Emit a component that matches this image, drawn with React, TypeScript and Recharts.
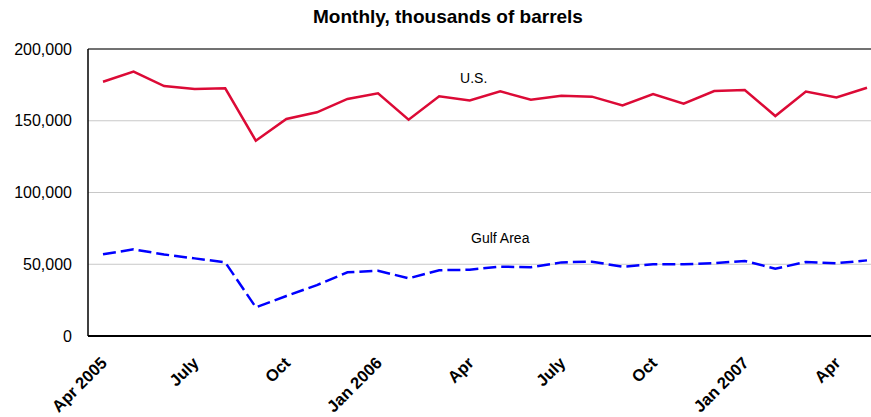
import { LineChart, Line, XAxis, YAxis, CartesianGrid, ReferenceLine, ReferenceDot } from 'recharts';

const months = [
  '2005-04', '2005-05', '2005-06', '2005-07', '2005-08', '2005-09', '2005-10', '2005-11', '2005-12',
  '2006-01', '2006-02', '2006-03', '2006-04', '2006-05', '2006-06', '2006-07', '2006-08', '2006-09',
  '2006-10', '2006-11', '2006-12', '2007-01', '2007-02', '2007-03', '2007-04', '2007-05',
];

const tickLabels: Record<string, string> = {
  '2005-04': 'Apr 2005',
  '2005-07': 'July',
  '2005-10': 'Oct',
  '2006-01': 'Jan 2006',
  '2006-04': 'Apr',
  '2006-07': 'July',
  '2006-10': 'Oct',
  '2007-01': 'Jan 2007',
  '2007-04': 'Apr',
};

const usValues = [
  177200, 184200, 174200, 172100, 172600, 136100, 151200, 155900, 165200,
  169100, 150700, 167000, 164200, 170500, 164700, 167500, 166800, 160700,
  168600, 161900, 170700, 171400, 153300, 170300, 166300, 173000,
];

const gulfValues = [
  56900, 60400, 56800, 54100, 51300, 20000, 27900, 35500, 44400,
  45500, 40200, 45800, 46200, 48300, 47900, 51300, 51800, 48300,
  50000, 50000, 50700, 52300, 46900, 51600, 50700, 52700,
];

const yTicks = [0, 50000, 100000, 150000, 200000];

const data = months.map((m, i) => ({ month: m, us: usValues[i], gulf: gulfValues[i] }));

const font = '"Liberation Sans", Arial, sans-serif';

function MonthTick(props: any) {
  const { x, y, payload } = props;
  return (
    <g transform={`translate(${x + 5},${y + 20})`}>
      <text
        x={0}
        y={0}
        textAnchor="end"
        transform="rotate(-45)"
        fontFamily={font}
        fontWeight="bold"
        fontSize={16.5}
        fill="#000"
      >
        {tickLabels[payload.value] ?? ''}
      </text>
    </g>
  );
}

export default function App() {
  return (
    <div style={{ position: 'fixed', left: 0, top: 0, width: 871, height: 417, background: '#fff', overflow: 'hidden' }}>
      <div
        style={{
          position: 'absolute',
          left: 0,
          top: 6,
          width: 896,
          textAlign: 'center',
          fontFamily: font,
          fontWeight: 'bold',
          fontSize: 19,
          lineHeight: '22px',
          color: '#000',
          whiteSpace: 'nowrap',
        }}
      >
        Monthly, thousands of barrels
      </div>
      <LineChart width={871} height={417} data={data} margin={{ top: 49, right: 0, bottom: 0, left: 0 }}>
        <CartesianGrid vertical={false} stroke="#c8c8c8" strokeWidth={1} />
        <XAxis
          dataKey="month"
          interval={2}
          tick={<MonthTick />}
          tickLine={false}
          axisLine={{ stroke: '#000', strokeWidth: 2 }}
          height={81}
          padding={{ left: 15, right: 4 }}
        />
        <YAxis
          domain={[0, 200000]}
          ticks={yTicks}
          width={88}
          tickLine={false}
          tickSize={0}
          tickMargin={16}
          axisLine={{ stroke: '#000', strokeWidth: 1.5 }}
          tickFormatter={(v: number) => v.toLocaleString('en-US')}
          tick={{ fontFamily: font, fontSize: 16, fill: '#000' }}
        />
        <ReferenceLine y={200000} stroke="#000" strokeWidth={1} />
        <Line
          type="linear"
          dataKey="us"
          stroke="#dc0a36"
          strokeWidth={2.5}
          dot={false}
          isAnimationActive={false}
        />
        <Line
          type="linear"
          dataKey="gulf"
          stroke="#0000ff"
          strokeWidth={2.5}
          strokeDasharray="13 5"
          dot={false}
          isAnimationActive={false}
        />
        <ReferenceDot
          x="2006-04"
          y={179800}
          r={0}
          stroke="none"
          fill="none"
          label={{ value: 'U.S.', position: 'center', dx: 4, fontFamily: font, fontSize: 14, fill: '#000' }}
        />
        <ReferenceDot
          x="2006-05"
          y={68300}
          r={0}
          stroke="none"
          fill="none"
          label={{ value: 'Gulf Area', position: 'center', fontFamily: font, fontSize: 14, fill: '#000' }}
        />
      </LineChart>
    </div>
  );
}
